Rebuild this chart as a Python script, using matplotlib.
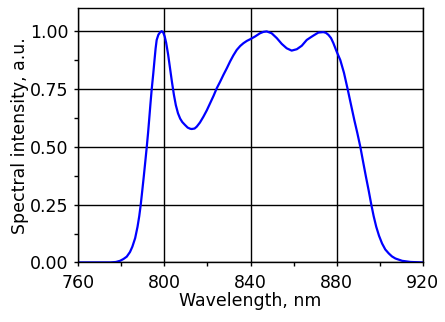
import matplotlib
matplotlib.use("Agg")
import matplotlib.pyplot as plt
from matplotlib.ticker import MultipleLocator

# Spectrum
wavelength = [760, 770, 775, 777.5, 779.4, 781.0, 782.5, 784.0, 785.1, 786.4, 787.5, 788.3,
              789.0, 789.7, 790.4, 791.1, 791.8, 792.4, 792.9, 793.5, 794.1, 794.8, 795.4,
              795.9, 796.4, 797.2, 798.0, 798.7, 799.4, 800.1, 800.8, 801.7, 802.6, 803.5,
              804.4, 805.3, 806.3, 807.3, 808.3, 809.5, 810.8, 812.0, 812.7, 814.0, 815.0,
              816.5, 818.1, 819.7, 821.2, 822.8, 824.3, 825.9, 827.4, 829.0, 830.5, 832.0,
              833.6, 835.2, 836.7, 838.3, 839.8, 842.1, 844.4, 846.0, 847.5, 849.8, 852.2,
              854.5, 856.8, 859.1, 861.5, 863.8, 866.1, 867.7, 869.2, 871.5, 873.8, 875.0,
              876.2, 877.4, 878.5, 880.0, 881.7, 883.4, 885.1, 886.6, 888.2, 889.6, 891.0,
              892.3, 893.6, 894.9, 896.1, 897.2, 898.4, 899.7, 901.1, 902.6, 904.2, 905.7,
              907.3, 910.4, 914.3, 920]
intensity = [0.0, 0.0, 0.0, 0.002, 0.007, 0.015, 0.025, 0.045, 0.068, 0.105, 0.154, 0.2,
             0.25, 0.31, 0.371, 0.435, 0.5, 0.56, 0.616, 0.685, 0.75, 0.815, 0.876,
             0.925, 0.962, 0.985, 0.995, 1.0, 0.995, 0.978, 0.95, 0.9, 0.84, 0.78,
             0.725, 0.68, 0.645, 0.622, 0.607, 0.595, 0.583, 0.578, 0.577, 0.579, 0.587,
             0.605, 0.63, 0.658, 0.688, 0.72, 0.753, 0.782, 0.811, 0.84, 0.869, 0.895,
             0.919, 0.936, 0.948, 0.958, 0.965, 0.977, 0.991, 0.997, 0.999, 0.991, 0.97,
             0.945, 0.926, 0.916, 0.922, 0.937, 0.962, 0.972, 0.981, 0.994, 0.996, 0.993,
             0.984, 0.97, 0.948, 0.912, 0.875, 0.82, 0.75, 0.685, 0.616, 0.56, 0.5,
             0.435, 0.371, 0.31, 0.25, 0.2, 0.154, 0.115, 0.082, 0.056, 0.039, 0.026,
             0.017, 0.007, 0.002, 0.0]

x_ticks = [760, 800, 840, 880, 920]
y_ticks = [0.0, 0.25, 0.5, 0.75, 1.0]

plt.rcParams["font.family"] = ["DejaVu Sans"]

fig = plt.figure(figsize=(4.45, 3.22), dpi=100)
ax = fig.add_axes([0.176, 0.185, 0.774, 0.79])

ax.plot(wavelength, intensity, color="#0000ff", lw=1.6)

ax.set_xlim(760, 920)
ax.set_ylim(0, 1.1)
ax.set_xticks(x_ticks)
ax.set_yticks(y_ticks)
ax.set_yticklabels([f"{v:.2f}" for v in y_ticks])
ax.xaxis.set_minor_locator(MultipleLocator(20))
ax.yaxis.set_minor_locator(MultipleLocator(0.125))
ax.grid(True, which="major", color="black", lw=1.0)

ax.tick_params(which="both", direction="out", labelsize=12.5, color="black")
ax.tick_params(which="major", length=3, width=1.0)
ax.tick_params(axis="x", which="major", pad=5)
ax.tick_params(axis="y", which="major", pad=4)
ax.tick_params(which="minor", length=3, width=1.0)
for s in ax.spines.values():
    s.set_linewidth(1.0)
    s.set_color("black")

ax.set_xlabel("Wavelength, nm", fontsize=12.5, labelpad=0)
ax.set_ylabel("Spectral intensity, a.u.", fontsize=12.5, labelpad=1)

fig.savefig("out.png", dpi=100)
